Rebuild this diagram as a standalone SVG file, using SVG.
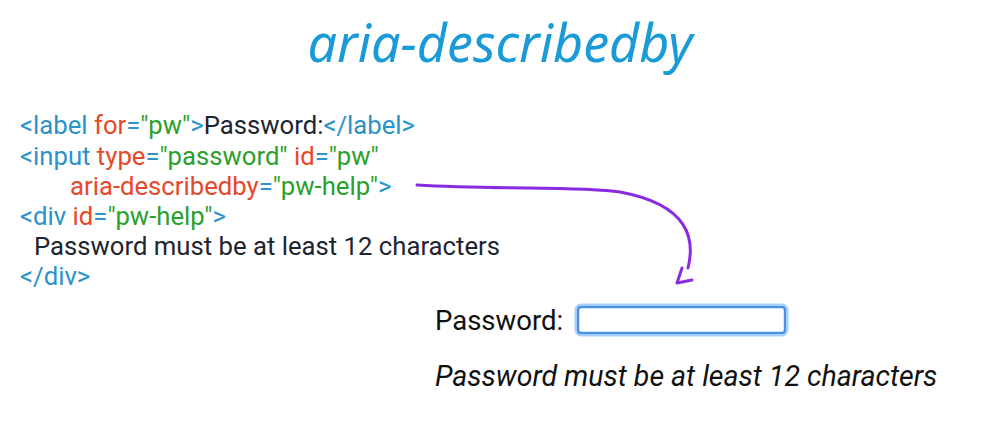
<svg xmlns="http://www.w3.org/2000/svg" width="1000" height="441" viewBox="0 0 1000 441">
<style>
.c{font-family:Roboto,"Liberation Sans",sans-serif;font-size:25.7px;fill:#1d2530}
.t{fill:#2b93c9}.a{fill:#e8482a}.v{fill:#2ca02c}
</style>
<rect width="1000" height="441" fill="#fff"/>
<text x="500" y="62" text-anchor="middle" font-family="'Noto Sans',sans-serif" font-style="italic" font-size="52" fill="#1a9ad6">aria-describedby</text>
<g id="code">
<text class="c" x="20" y="134"><tspan class="t">&lt;label </tspan><tspan class="a">for</tspan><tspan class="t">=</tspan><tspan class="v">"pw"</tspan><tspan class="t">&gt;</tspan>Password:<tspan class="t">&lt;/label&gt;</tspan></text>
<text class="c" x="20" y="165"><tspan class="t">&lt;input </tspan><tspan class="a">type</tspan><tspan class="t">=</tspan><tspan class="v">"password" </tspan><tspan class="a">id</tspan><tspan class="t">=</tspan><tspan class="v">"pw"</tspan></text>
<text class="c" x="70" y="195"><tspan class="a">aria-describedby</tspan><tspan class="t">=</tspan><tspan class="v">"pw-help"</tspan><tspan class="t">&gt;</tspan></text>
<text class="c" x="20" y="225"><tspan class="t">&lt;div </tspan><tspan class="a">id</tspan><tspan class="t">=</tspan><tspan class="v">"pw-help"</tspan><tspan class="t">&gt;</tspan></text>
<text class="c" x="34" y="255">Password must be at least 12 characters</text>
<text class="c" x="20" y="285"><tspan class="t">&lt;/div&gt;</tspan></text>
</g>
<g id="connectors" fill="none" stroke="#8a2be2" stroke-width="3" stroke-linecap="round" stroke-linejoin="round">
<path d="M417,185 C500,190 580,186 620,192 C690,205 695,240 688,268"/>
<path d="M682,268 L677,283 L692,280"/>
</g>
<g id="form">
<text x="435" y="330" font-family="Roboto,'Liberation Sans',sans-serif" font-size="27.5" fill="#111">Password:</text>
<rect x="577" y="306" width="209" height="28" rx="4" fill="#fff" stroke="#a8d0ff" stroke-width="5"/>
<rect x="578" y="307" width="207" height="26" rx="3" fill="none" stroke="#4a90e2" stroke-width="2"/>
<text x="435" y="386" font-family="Roboto,'Liberation Sans',sans-serif" font-style="italic" font-size="28.5" fill="#111">Password must be at least 12 characters</text>
</g>
</svg>
